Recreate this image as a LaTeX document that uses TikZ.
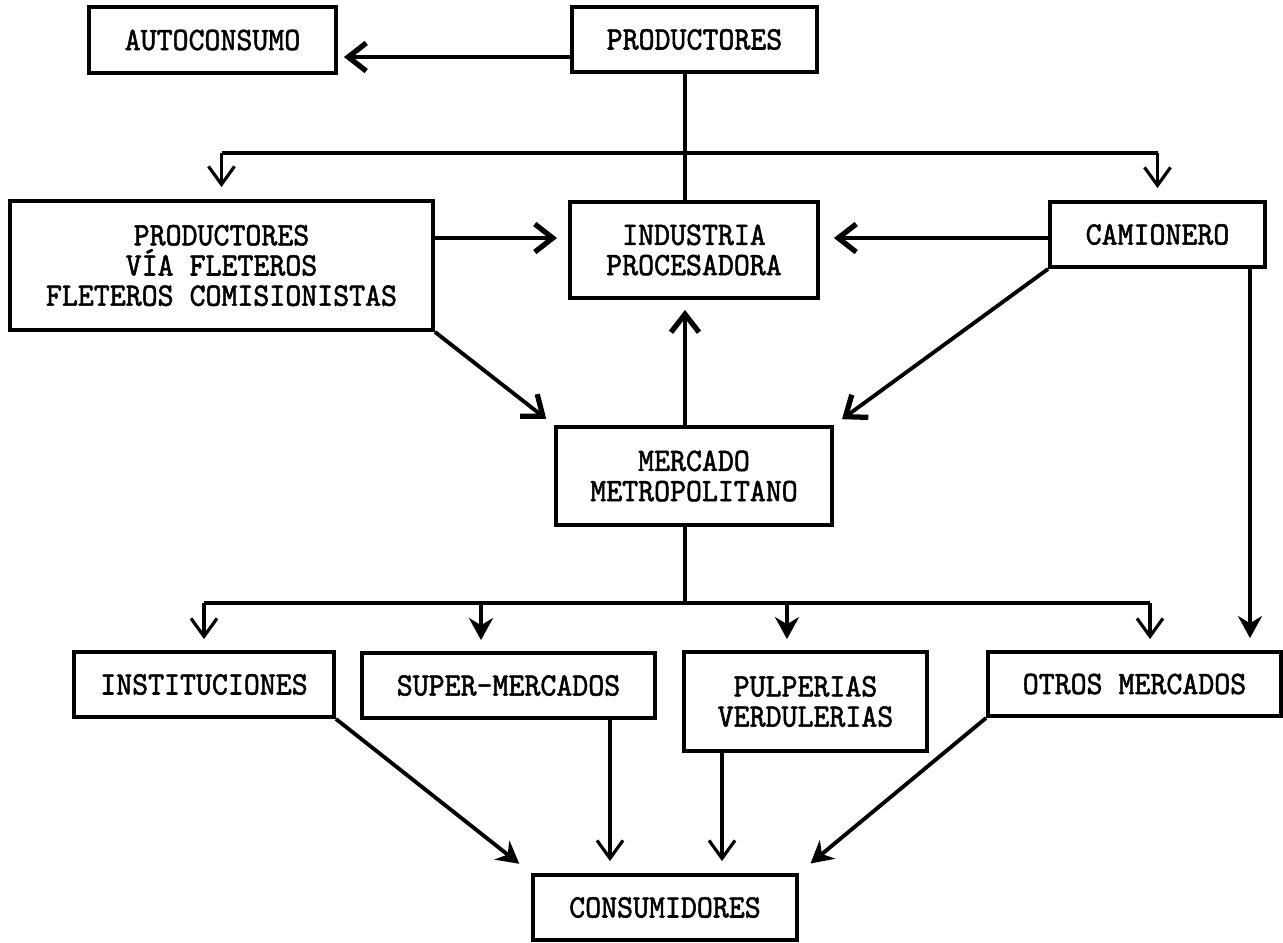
\documentclass[tikz,border=0pt]{standalone}
\usepackage{fontspec}
\usetikzlibrary{arrows.meta}

\newfontfamily\boxfont[FakeStretch=0.93, FakeBold=1.6]{lmmono10-regular.otf}

\tikzset{
  box/.style={draw, line width=1.1pt, align=center, inner sep=0pt,
    font=\boxfont\fontsize{9.3}{8.6}\selectfont},
  open/.style={-{Straight Barb[length=1.8mm,width=2.6mm]}, line width=0.9pt},
  bold/.style={-{Straight Barb[length=1.8mm,width=2.8mm,line width=1.5pt]}, line width=1.1pt},
  fat/.style={-{Stealth[length=2.2mm,width=2.4mm]}, line width=1.1pt}
}

\begin{document}
\begin{tikzpicture}[x=0.1mm, y=-0.1mm]
	\useasboundingbox (0,0) rectangle (1283,942);

	% boxes
	\node [box, minimum width=24.7mm, minimum height=6.6mm] (auto) at (212.5,40) {AUTOCONSUMO};
	\node [box, minimum width=24.5mm, minimum height=6.5mm] (prod) at (694.5,39.5) {PRODUCTORES};
	\node [box, minimum width=42.3mm, minimum height=12.9mm] (pvf) at (221.5,265.5) {PRODUCTORES\\V\'IA FLETEROS\\FLETEROS COMISIONISTAS};
	\node [box, minimum width=24.8mm, minimum height=9.6mm] (ind) at (694,250) {INDUSTRIA\\PROCESADORA};
	\node [box, minimum width=21.5mm, minimum height=6.5mm] (cam) at (1157.5,234.5) {CAMIONERO};
	\node [box, minimum width=27.6mm, minimum height=9.8mm] (merc) at (694,476) {MERCADO\\METROPOLITANO};
	\node [box, minimum width=26mm, minimum height=6.5mm] (inst) at (204,684.5) {INSTITUCIONES};
	\node [box, minimum width=29.3mm, minimum height=6.5mm] (super) at (508.5,685.5) {SUPER-MERCADOS};
	\node [box, minimum width=24.3mm, minimum height=9.9mm] (pulp) at (805.5,701.5) {PULPERIAS\\VERDULERIAS};
	\node [box, minimum width=29.3mm, minimum height=6.4mm] (otros) at (1134.5,684) {OTROS MERCADOS};
	\node [box, minimum width=26.4mm, minimum height=6.5mm] (cons) at (665,907.5) {CONSUMIDORES};

	% helper coordinates
	\coordinate (trunk) at (685,0);
	\coordinate (side) at (1250,0);
	\coordinate (bus1) at (0,153);
	\coordinate (bus2) at (0,603);
	\coordinate (row) at (0,238);
	\coordinate (dropS) at (481,0);
	\coordinate (dropP) at (787,0);
	\coordinate (dropO) at (1150,0);
	\coordinate (downS) at (610,0);
	\coordinate (downP) at (722,0);

	% productores
	\draw [bold, shorten >=0.6mm] (prod.west |- 0,57) -- (auto.east |- 0,57);
	\draw [line width=1pt] (prod.south -| trunk) -- (ind.north -| trunk);
	\draw [line width=1pt] (pvf.north |- bus1) -- (cam.north |- bus1);
	\draw [open, shorten >=1.2mm] (pvf.north |- bus1) -- (pvf.north);
	\draw [open, shorten >=1.2mm] (cam.north |- bus1) -- (cam.north);

	% middle level
	\draw [bold, shorten >=1.1mm] (pvf.east |- row) -- (ind.west |- row);
	\draw [bold, shorten >=1.4mm] (cam.west |- row) -- (ind.east |- row);
	\draw [bold, shorten >=1mm] (pvf.south east) -- (merc.north west);
	\draw [bold, shorten >=1mm] (cam.south west) -- (merc.north east);
	\draw [bold, shorten >=1mm] (merc.north -| trunk) -- (ind.south -| trunk);
	\draw [fat, shorten >=1.2mm] (cam.south -| side) -- (otros.north -| side);

	% mercado to retail
	\draw [line width=1.1pt] (merc.south -| trunk) -- (bus2 -| trunk);
	\draw [line width=1.1pt] (bus2 -| inst.north) -- (bus2 -| dropO);
	\draw [open, shorten >=1.1mm] (bus2 -| inst.north) -- (inst.north);
	\draw [fat, shorten >=1.1mm] (bus2 -| dropS) -- (super.north -| dropS);
	\draw [fat, shorten >=1.1mm] (bus2 -| dropP) -- (pulp.north -| dropP);
	\draw [open, shorten >=1.1mm] (bus2 -| dropO) -- (otros.north -| dropO);

	% retail to consumidores
	\draw [fat, shorten >=1.5mm] (inst.south east) -- (cons.north west);
	\draw [open, shorten >=1.2mm] (super.south -| downS) -- (cons.north -| downS);
	\draw [open, shorten >=1.2mm] (pulp.south -| downP) -- (cons.north -| downP);
	\draw [fat, shorten >=1.5mm] (otros.south west) -- (cons.north east);
\end{tikzpicture}
\end{document}
